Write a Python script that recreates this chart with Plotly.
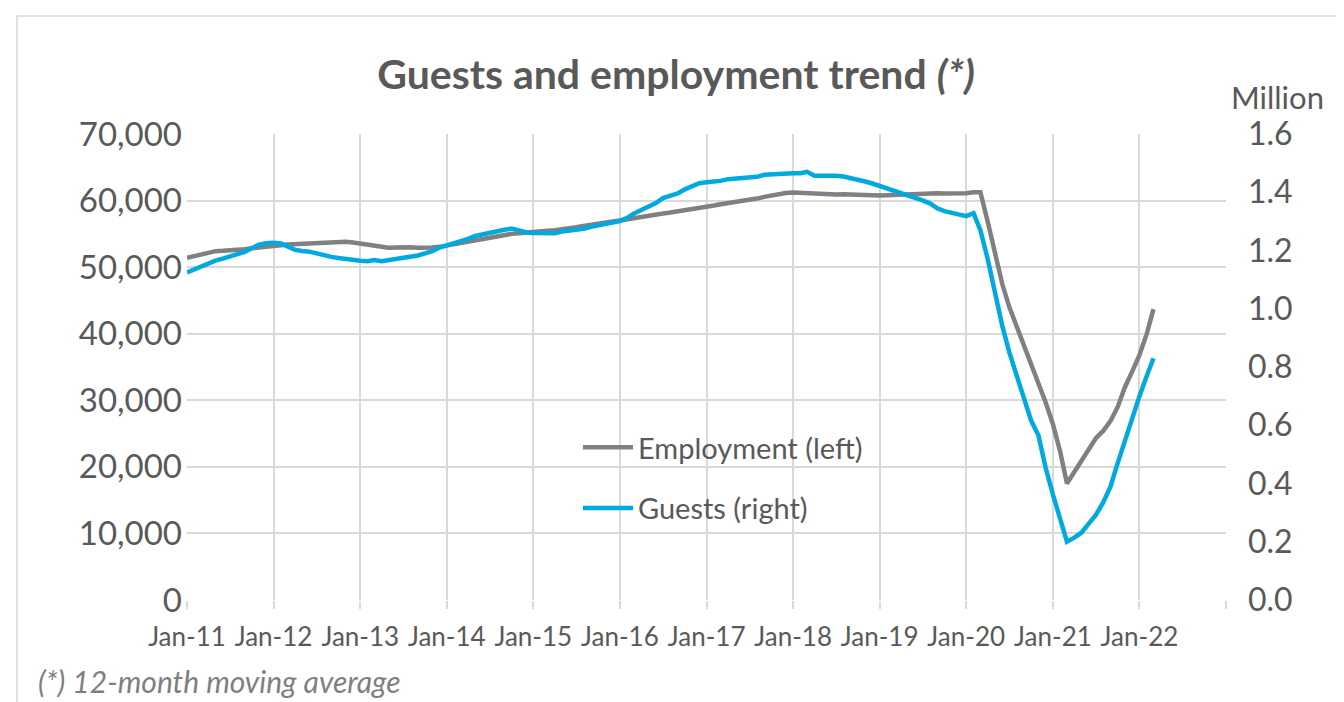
import pandas as pd
import plotly.graph_objects as go

# ---------------- data ----------------
start_month = "2011-01-01"

employment = [
    51400, 51650, 51900, 52150, 52400, 52450, 52500, 52600, 52700, 52850, 53000, 53100,
    53200, 53300, 53400, 53450, 53500, 53550, 53650, 53600, 53700, 53750, 53800, 53700,
    53550, 53350, 53100, 52950, 52900, 52950, 53050, 53000, 52900, 52850, 52950, 53050,
    53250, 53450, 53700, 53950, 54150, 54300, 54500, 54700, 54900, 55000, 55100, 55150,
    55250, 55350, 55450, 55550, 55650, 55800, 56000, 56200, 56400, 56600, 56750, 56850,
    57000, 57200, 57400, 57600, 57800, 57900, 58050, 58200, 58350, 58500, 58700, 58900,
    59050, 59250, 59450, 59600, 59750, 59950, 60100, 60300, 60550, 60800, 61050, 61150,
    61200, 61150, 61050, 60950, 60950, 60950, 60900, 60950, 60950, 60950, 60900, 60800,
    60750, 60800, 60900, 60950, 61000, 61050, 61050, 61050, 61100, 61050, 61050, 61050,
    61100, 61250, 61250, 56800, 51900, 47500, 44000, 41100, 38600, 35700, 32700, 29700,
    26400, 22200, 17500, 19300, 20900, 22800, 24300, 25400, 26900, 29000, 32000, 34300,
    36800, 40000, 43700,
]

guests_mn = [
    1.125, 1.135, 1.147, 1.158, 1.165, 1.172, 1.180, 1.186, 1.195, 1.208, 1.220, 1.225,
    1.227, 1.224, 1.212, 1.202, 1.198, 1.196, 1.190, 1.183, 1.178, 1.174, 1.170, 1.167,
    1.165, 1.163, 1.167, 1.163, 1.167, 1.170, 1.172, 1.177, 1.183, 1.190, 1.198, 1.210,
    1.218, 1.226, 1.230, 1.240, 1.250, 1.256, 1.262, 1.268, 1.271, 1.275, 1.268, 1.263,
    1.260, 1.259, 1.259, 1.259, 1.265, 1.268, 1.270, 1.275, 1.281, 1.287, 1.292, 1.296,
    1.301, 1.312, 1.327, 1.339, 1.350, 1.363, 1.380, 1.390, 1.396, 1.410, 1.420, 1.431,
    1.434, 1.436, 1.439, 1.445, 1.447, 1.450, 1.452, 1.453, 1.460, 1.462, 1.463, 1.464,
    1.465, 1.465, 1.470, 1.457, 1.457, 1.459, 1.457, 1.454, 1.449, 1.444, 1.437, 1.430,
    1.422, 1.413, 1.404, 1.397, 1.391, 1.382, 1.372, 1.362, 1.345, 1.335, 1.328, 1.323,
    1.318, 1.328, 1.270, 1.170, 1.053, 0.942, 0.850, 0.770, 0.691, 0.616, 0.565, 0.455,
    0.362, 0.270, 0.200, 0.214, 0.231, 0.262, 0.292, 0.335, 0.390, 0.470, 0.549, 0.625,
    0.700, 0.770, 0.830,
]

tick_years = list(range(2011, 2024))
tick_labels = [f"Jan-{str(y)[2:]}" for y in tick_years[:-1]] + [""]
left_ticks = list(range(0, 70001, 10000))
right_ticks = [0.0, 0.2, 0.4, 0.6, 0.8, 1.0, 1.2, 1.4, 1.6]

months = pd.date_range(start_month, periods=len(employment), freq="MS")
tick_dates = [pd.Timestamp(f"{y}-01-01") for y in tick_years]

# ---------------- style ----------------
FONT = "Lato"
TXT = "#595959"
GRID = "#d9d9d9"
GRAY = "#808080"
BLUE = "#00A9E0"

fig = go.Figure()
fig.add_trace(go.Scatter(
    x=months, y=employment, name="Employment (left)", mode="lines",
    line=dict(color=GRAY, width=4.5), yaxis="y", legendgroup="a",
))
fig.add_trace(go.Scatter(
    x=months, y=guests_mn, name="Guests (right)", mode="lines",
    line=dict(color=BLUE, width=4.5), yaxis="y2", legendgroup="b",
))

# page body adds an 8px offset; work in screen pixels and subtract it
OFF = 8
W, H = 1344 - OFF, 702 - OFF
L, R, T, B = 187 - OFF, 1226 - OFF, 134 - OFF, 600 - OFF
pw, ph = R - L, B - T

def px(x):
    return (x - OFF - L) / pw

def py(y):
    return (B - (y - OFF)) / ph

fig.update_layout(
    width=W, height=H,
    margin=dict(l=L, r=W - R, t=T, b=H - B, pad=0),
    paper_bgcolor="white", plot_bgcolor="white",
    font=dict(family=FONT, color=TXT),
    title=dict(
        text="<b>Guests and employment trend <i>(*)</i></b>",
        x=(676 - OFF) / W, xref="container", xanchor="center",
        y=1 - (75 - OFF) / H, yref="container", yanchor="middle",
        font=dict(size=41, color=TXT, family=FONT),
    ),
    xaxis=dict(
        type="date",
        range=[tick_dates[0], tick_dates[-1]],
        tickvals=tick_dates, ticktext=tick_labels,
        showgrid=True, gridcolor=GRID, gridwidth=1.6,
        ticks="outside", ticklen=8, tickcolor=GRID, tickwidth=1.6,
        showline=False, zeroline=False,
        tickfont=dict(size=26, color=TXT),
        ticklabelstandoff=6,
    ),
    yaxis=dict(
        range=[0, 70000], tickvals=left_ticks, tickformat=",",
        showgrid=True, gridcolor=GRID, gridwidth=1.6,
        zeroline=False, showline=False, ticks="",
        tickfont=dict(size=33, color=TXT),
        ticklabelstandoff=4,
    ),
    yaxis2=dict(
        range=[0, 1.6], tickvals=right_ticks, tickformat=".1f",
        overlaying="y", side="right", showgrid=False,
        zeroline=False, showline=False, ticks="",
        tickfont=dict(size=32, color=TXT),
        ticklabelstandoff=21,
    ),
    legend=dict(
        x=px(578), y=py(449 - 27), xanchor="left", yanchor="top",
        bgcolor="rgba(0,0,0,0)", borderwidth=0,
        font=dict(size=29, color=TXT, family=FONT),
        traceorder="grouped", tracegroupgap=20,
        itemwidth=50,
    ),
    showlegend=True,
)

# white box behind the legend (covers gridlines)
fig.add_shape(type="rect", xref="paper", yref="paper",
              x0=px(470), x1=px(999), y0=py(538), y1=py(417),
              fillcolor="white", line=dict(width=0), layer="between")

# outer chart frame
fig.add_shape(type="rect", xref="paper", yref="paper",
              x0=px(17), x1=px(1337), y0=py(712), y1=py(16),
              fillcolor="rgba(0,0,0,0)", line=dict(color=GRID, width=1.5),
              layer="below")

fig.add_annotation(text="Million", xref="paper", yref="paper",
                   x=px(1229), y=py(97), xanchor="left", yanchor="middle",
                   showarrow=False, font=dict(size=31, color=TXT, family=FONT))

fig.add_annotation(text="<i>(*) 12-month moving average</i>", xref="paper", yref="paper",
                   x=px(36), y=py(701), xanchor="left", yanchor="bottom",
                   showarrow=False, font=dict(size=30, color="#7f7f7f", family=FONT))

fig.write_html("out.html")
